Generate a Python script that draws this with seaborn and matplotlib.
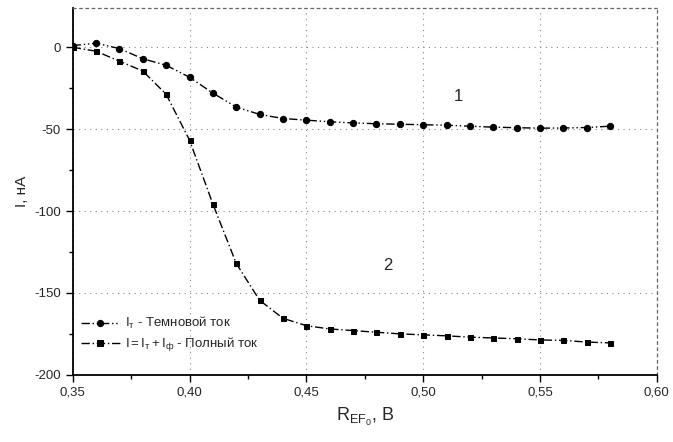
import numpy as np
import pandas as pd
import seaborn as sns
import matplotlib.pyplot as plt
from matplotlib.ticker import MultipleLocator, FuncFormatter

# Reference voltage, V
ref_voltage = [0.35, 0.36, 0.37, 0.38, 0.39, 0.40, 0.41, 0.42, 0.43, 0.44, 0.45, 0.46,
               0.47, 0.48, 0.49, 0.50, 0.51, 0.52, 0.53, 0.54, 0.55, 0.56, 0.57, 0.58]
# curve 1: dark current, nA
dark_current = [1.0, 2.5, -0.8, -7.0, -11.0, -18.3, -28.0, -36.5, -41.0, -43.5, -44.5, -45.5,
                -46.2, -46.7, -47.0, -47.3, -47.6, -48.2, -48.8, -49.1, -49.4, -49.3, -49.0, -48.2]
# curve 2: total current, nA
total_current = [0.0, -2.4, -8.5, -14.5, -28.7, -56.7, -95.7, -132.0, -154.5, -165.5, -170.0, -172.0,
                 -173.0, -174.0, -175.0, -175.6, -176.2, -177.0, -177.5, -178.0, -178.7, -179.0, -180.0, -180.5]

labels = [r'$\mathregular{I_т}$ - Темновой ток',
          r'$\mathregular{I = I_т + I_ф}$ - Полный ток']

df = pd.DataFrame({
    'x': ref_voltage * 2,
    'y': dark_current + total_current,
    'curve': [labels[0]] * len(ref_voltage) + [labels[1]] * len(ref_voltage),
})

sns.set_style('white')
plt.rcParams['font.family'] = ['Liberation Sans', 'DejaVu Sans']
plt.rcParams['mathtext.fontset'] = 'custom'
plt.rcParams['mathtext.rm'] = 'Liberation Sans'
plt.rcParams['mathtext.it'] = 'Liberation Sans'

fig = plt.figure(figsize=(6.73, 4.42), dpi=100)
ax = fig.add_axes([0.108, 0.152, 0.868, 0.830])

sns.lineplot(data=df, x='x', y='y', hue='curve', style='curve',
             palette=['black', 'black'], markers=['o', 's'],
             dashes=[(6, 2, 1, 2, 1, 2), (6, 2, 1, 2)], markersize=4.5,
             markeredgecolor='black', linewidth=1.0, ax=ax, sort=False)
# squares a bit smaller than the circles
ax.lines[1].set_markersize(3.6)

ax.set_xlim(0.35, 0.60)
ax.set_ylim(-200, 24)
ax.xaxis.set_major_locator(MultipleLocator(0.05))
ax.xaxis.set_minor_locator(MultipleLocator(0.025))
ax.yaxis.set_major_locator(MultipleLocator(50))
ax.yaxis.set_minor_locator(MultipleLocator(25))
ax.xaxis.set_major_formatter(FuncFormatter(lambda v, p: f'{v:.2f}'.replace('.', ',')))
ax.yaxis.set_major_formatter(FuncFormatter(lambda v, p: f'{v:.0f}'))

ax.grid(True, which='major', color='#888888', linestyle=(0, (1, 4)), linewidth=0.8)
ax.tick_params(which='major', direction='out', length=5, width=1, labelsize=9.5,
               bottom=True, left=True, color='black')
ax.tick_params(which='minor', direction='out', length=3, width=1,
               bottom=True, left=True, color='black')

for side in ['left', 'bottom']:
    ax.spines[side].set_color('black')
    ax.spines[side].set_linewidth(1.3)
for side in ['top', 'right']:
    ax.spines[side].set_color('#666666')
    ax.spines[side].set_linestyle((0, (2, 3)))
    ax.spines[side].set_linewidth(0.9)

ax.set_xlabel(r'$\mathregular{R_{EF_0}}$, B', fontsize=13, labelpad=5)
ax.set_ylabel('I, нА', fontsize=11, labelpad=4)

ax.text(0.515, -30, '1', fontsize=12, ha='center', va='center')
ax.text(0.485, -133, '2', fontsize=12, ha='center', va='center')

leg = ax.legend(loc='lower left', bbox_to_anchor=(0.0, 0.035), frameon=False,
                fontsize=9.5, handlelength=3, handletextpad=0.4, labelspacing=0.35,
                borderaxespad=0.2)

fig.savefig('out.png', dpi=100)
